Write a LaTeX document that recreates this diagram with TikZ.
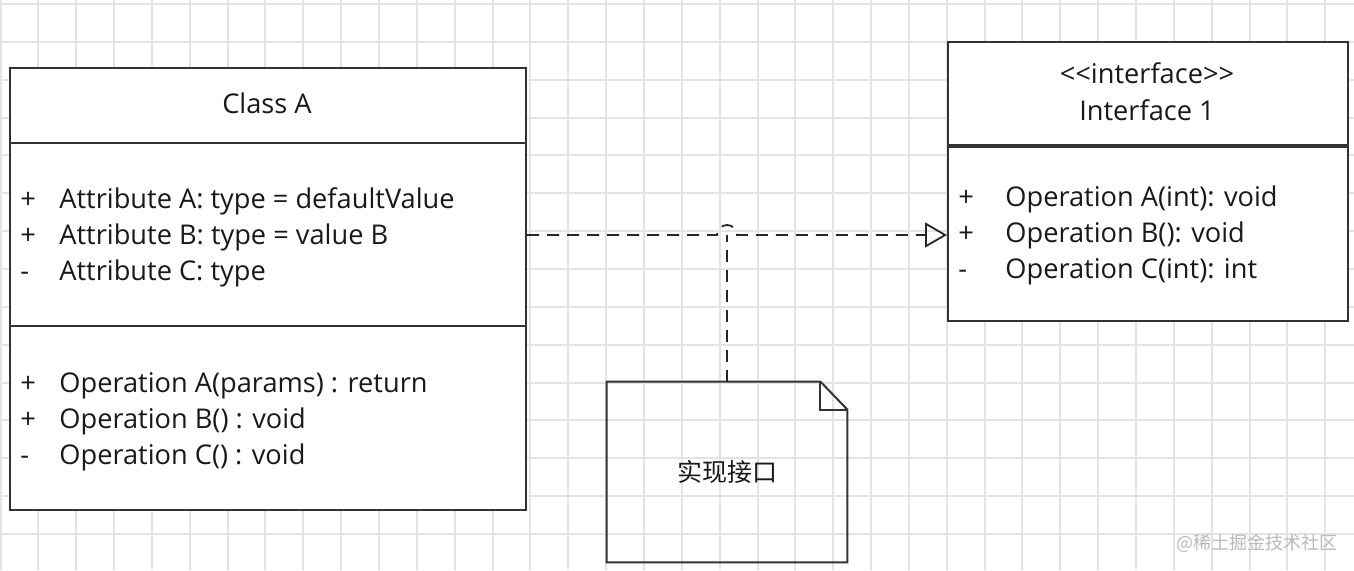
\documentclass[tikz,border=0pt]{standalone}
\usepackage{fontspec}
\setmainfont{Open Sans}
\newfontfamily\cjkfont{Noto Sans CJK SC}
\usetikzlibrary{calc}
\usetikzlibrary{arrows.meta}

\begin{document}
\begin{tikzpicture}[x=0.5pt,y=-0.5pt,
  gridline/.style={draw=gray!22,line width=1pt},
  umlbox/.style={draw=black!80,line width=1pt,fill=white,inner sep=0pt,anchor=north west},
  divider/.style={draw=black!80,line width=1pt},
  member/.style={anchor=base west,inner sep=0pt,text=black!90,font=\fontsize{13.6}{15}\selectfont},
  title/.style={anchor=base,inner sep=0pt,text=black!90,font=\fontsize{13.6}{15}\selectfont},
  realize/.style={draw=black!85,line width=0.9pt,dash pattern=on 6pt off 4pt}]
\fill[white] (0,0) rectangle (1354,570);
\useasboundingbox (0,0) rectangle (1354,570);
% grid
\foreach \gx in {0,...,35}
  \draw[gridline] (0.5+37.85*\gx,0) -- (0.5+37.85*\gx,570);
\foreach \gy in {0,...,15}
  \draw[gridline] (0,4+37.85*\gy) -- (1354,4+37.85*\gy);

% class A
\node[umlbox,minimum width=258pt,minimum height=221pt] (classA) at (9,67) {};
\coordinate (cdivA) at (9,143);
\coordinate (cdivB) at (9,326);
\draw[divider] (cdivA) -- (cdivA -| classA.east);
\draw[divider] (cdivB) -- (cdivB -| classA.east);
\node[title] (classAname) at (267,113) {Class A};
\foreach \vis/\txt [count=\i] in {+/Attribute A: type = defaultValue,
    +/Attribute B: type = value B, -/Attribute C: type}
  {
  \node[member] (attrvis\i) at (20,172+36*\i) {\vis};
  \node[member] (attr\i) at (59,172+36*\i) {\txt};
  }
\foreach \vis/\txt [count=\i] in {+/Operation A(params) : return,
    +/Operation B() : void, -/Operation C() : void}
  {
  \node[member] (opvis\i) at (20,356+36*\i) {\vis};
  \node[member] (op\i) at (59,356+36*\i) {\txt};
  }

% interface
\node[umlbox,minimum width=200pt,minimum height=139.5pt] (iface) at (947,41) {};
\coordinate (cdivI) at (947,146);
\draw[divider,line width=1.6pt] (cdivI) -- (cdivI -| iface.east);
\node[title] (stereo) at (1147,83) {<{}<interface>{}>};
\node[title] (ifacename) at (1147,120) {Interface 1};
\foreach \vis/\txt [count=\i] in {+/Operation A(int): void,
    +/Operation B(): void, -/Operation C(int): int}
  {
  \node[member] (ifvis\i) at (958,170+36*\i) {\vis};
  \node[member] (ifop\i) at (1005,170+36*\i) {\txt};
  }

% note
\node[inner sep=0pt,minimum width=120pt,minimum height=90pt,text=black!90,
      font=\cjkfont\fontsize{12.5}{14}\selectfont] (note) at (727,472) {实现接口};
\draw[black!80,line width=1pt] (note.north west) -- ([xshift=-13.5pt]note.north east)
  -- ([yshift=-14pt]note.north east) -- (note.south east) -- (note.south west) -- cycle;
\draw[black!80,line width=1pt] ([xshift=-13.5pt]note.north east)
  -- ([xshift=-13.5pt,yshift=-14pt]note.north east) -- ([yshift=-14pt]note.north east);

% realization
\coordinate (hop) at (727,235);
\draw[realize] (note.north) -- (hop);
\draw[realize,-{Triangle[open,length=11pt,width=12.5pt]}] (classA.east |- hop)
  -- ([xshift=-5pt]hop) arc[start angle=180,end angle=0,radius=5pt] -- (iface.west |- hop);

\node[text=gray!55,font=\cjkfont\fontsize{9}{10}\selectfont] (mark) at (1257,543) {@稀土掘金技术社区};
\end{tikzpicture}
\end{document}
